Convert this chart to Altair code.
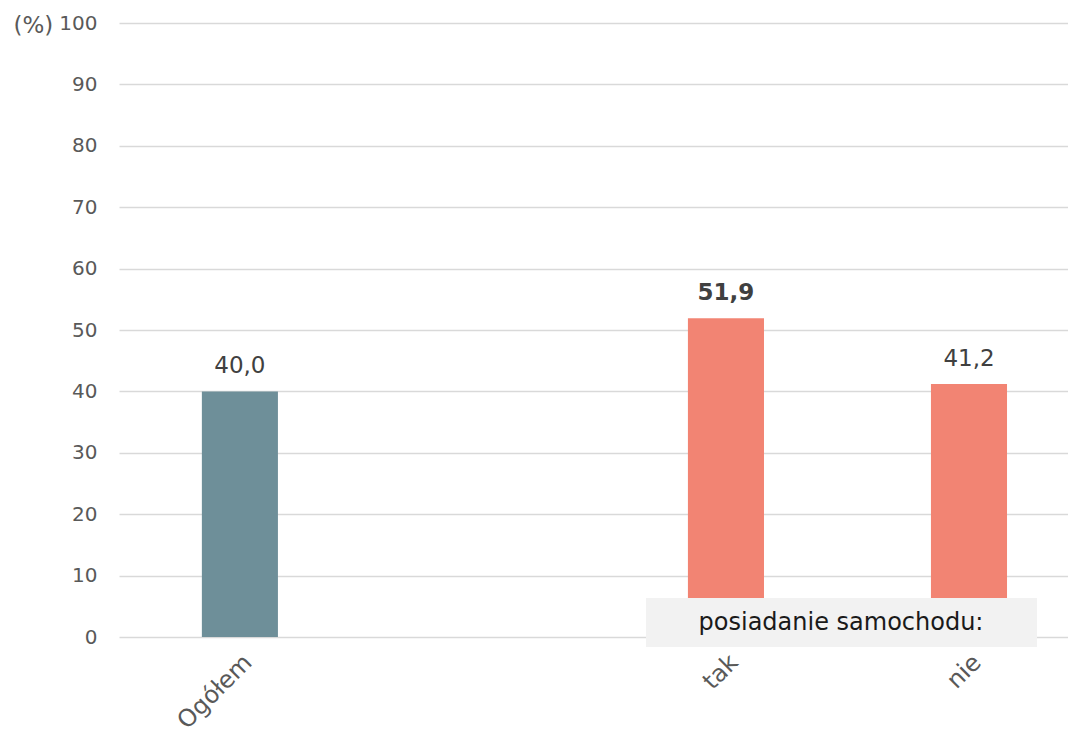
import altair as alt
import pandas as pd

categories = ["Ogółem", " ", "tak", "nie"]
bar_categories = ["Ogółem", "tak", "nie"]
values = [40.0, 51.9, 41.2]
labels = ["40,0", "51,9", "41,2"]
bold = ["normal", "bold", "normal"]
groups = ["total", "car", "car"]
y_ticks = [0, 10, 20, 30, 40, 50, 60, 70, 80, 90, 100]
box_text = "posiadanie samochodu:"

FONT = "DejaVu Sans"

df = pd.DataFrame({
    "cat": bar_categories,
    "val": values,
    "lab": labels,
    "w": bold,
    "grp": groups,
})

x_enc = alt.X(
    "cat:N",
    scale=alt.Scale(domain=categories, paddingInner=0.687, paddingOuter=0.298, align=0.579),
    axis=alt.Axis(title=None, labelAngle=-45, labelPadding=13, labelFontSize=24,
                  domain=False, ticks=False, grid=False),
)
y_enc = alt.Y(
    "val:Q",
    scale=alt.Scale(domain=[0, 100], nice=False),
    axis=alt.Axis(
        values=y_ticks, title="(%)", titleAngle=0, titleX=-105, titleY=2,
        titleAlign="left", titleBaseline="middle", labelPadding=21,
        domain=False, ticks=False, grid=True,
    ),
)

bars = alt.Chart(df).mark_bar().encode(
    x=x_enc,
    y=y_enc,
    color=alt.Color("grp:N", scale=alt.Scale(domain=["total", "car"], range=["#6e8f99", "#f28473"]), legend=None),
)

text_norm = alt.Chart(df).transform_filter(alt.datum.w == "normal").mark_text(
    baseline="bottom", dy=-13, fontSize=23, font=FONT, color="#404040"
).encode(x=alt.X("cat:N"), y=alt.Y("val:Q"), text="lab:N")

text_bold = alt.Chart(df).transform_filter(alt.datum.w == "bold").mark_text(
    baseline="bottom", dy=-13, fontSize=23, font=FONT, color="#404040", fontWeight="bold"
).encode(x=alt.X("cat:N"), y=alt.Y("val:Q"), text="lab:N")

box_df = pd.DataFrame({"t": [box_text]})
box = alt.Chart(box_df).mark_rect(color="#f2f2f2").encode(
    x=alt.value(528), x2=alt.value(919), y=alt.value(575), y2=alt.value(624)
)
box_label = alt.Chart(box_df).mark_text(
    fontSize=24, font=FONT, color="#1a1a1a", baseline="middle", align="center"
).encode(x=alt.value(723), y=alt.value(600), text="t:N")

# white edge to hide any left border line of the plot frame
edge = alt.Chart(box_df).mark_rule(color="white", strokeWidth=3).encode(
    x=alt.value(0), y=alt.value(-2), y2=alt.value(616)
)

chart = alt.layer(bars, text_norm, text_bold, box, box_label, edge).properties(
    width=950, height=614,
    padding={"left": 5, "top": 5, "right": 0, "bottom": 5},
).configure_view(stroke="transparent", strokeWidth=0).configure(background="white").configure_axis(
    domain=False, ticks=False, labelFont=FONT, labelFontSize=20, labelColor="#595959",
    titleFont=FONT, titleFontSize=23, titleFontWeight="normal", titleColor="#595959",
    gridColor="#d9d9d9", gridWidth=1.5,
).configure_axisX(grid=False)

chart.save("out.html", embed_options={"renderer": "svg", "actions": False})
